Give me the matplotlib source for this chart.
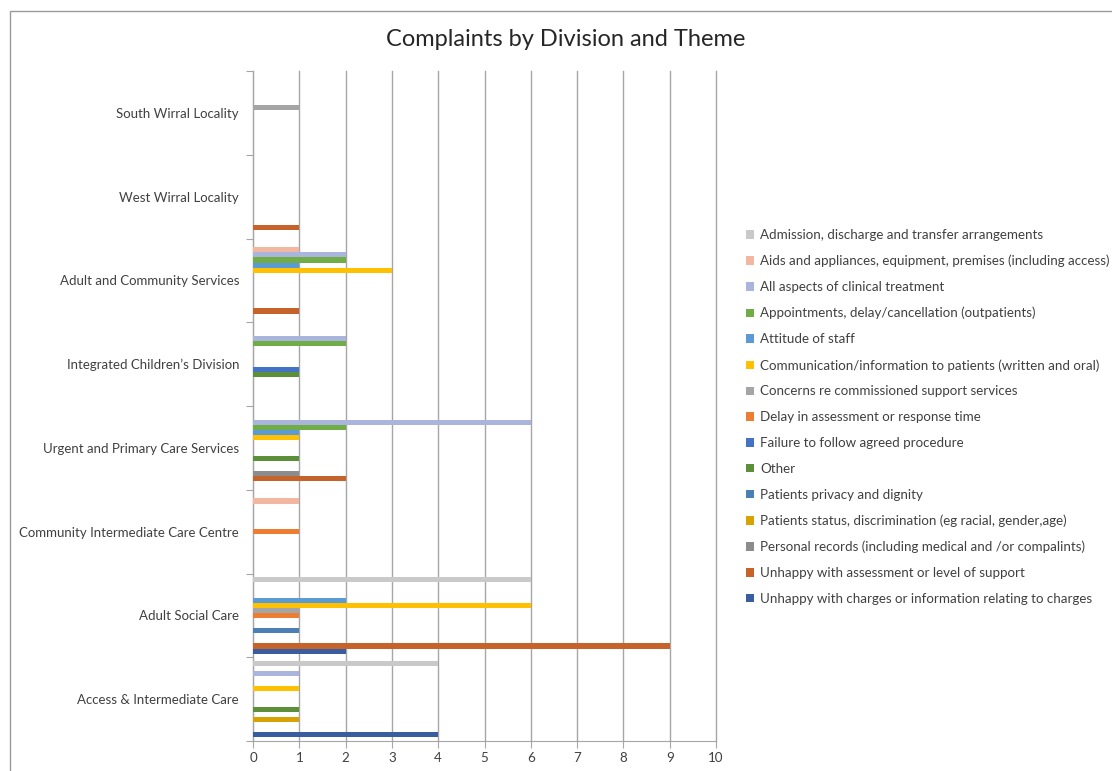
import numpy as np
import matplotlib
matplotlib.use('Agg')
import matplotlib.pyplot as plt
from matplotlib.patches import Rectangle

plt.rcParams['font.family'] = ['Lato', 'DejaVu Sans']

# Divisions, bottom to top as drawn on the axis
divisions = [
    'Access & Intermediate Care',
    'Adult Social Care',
    'Community Intermediate Care Centre',
    'Urgent and Primary Care Services',
    'Integrated Children\u2019s Division',
    'Adult and Community Services',
    'West Wirral Locality',
    'South Wirral Locality',
]

themes = [
    'Admission, discharge and transfer arrangements',
    'Aids and appliances, equipment, premises (including access)',
    'All aspects of clinical treatment',
    'Appointments, delay/cancellation (outpatients)',
    'Attitude of staff',
    'Communication/information to patients (written and oral)',
    'Concerns re commissioned support services',
    'Delay in assessment or response time',
    'Failure to follow agreed procedure',
    'Other',
    'Patients privacy and dignity',
    'Patients status, discrimination (eg racial, gender,age)',
    'Personal records (including medical and /or compalints)',
    'Unhappy with assessment or level of support',
    'Unhappy with charges or information relating to charges',
]

# complaint counts per theme, one value per division (same order as divisions)
admission     = [4, 6, 0, 0, 0, 0, 0, 0]
aids          = [0, 0, 1, 0, 0, 1, 0, 0]
clinical      = [1, 0, 0, 6, 2, 2, 0, 0]
appointments  = [0, 0, 0, 2, 2, 2, 0, 0]
attitude      = [0, 2, 0, 1, 0, 1, 0, 0]
communication = [1, 6, 0, 1, 0, 3, 0, 0]
commissioned  = [0, 1, 0, 0, 0, 0, 0, 1]
delay         = [0, 1, 1, 0, 0, 0, 0, 0]
procedure     = [0, 0, 0, 0, 1, 0, 0, 0]
other         = [1, 0, 0, 1, 1, 0, 0, 0]
privacy       = [0, 1, 0, 0, 0, 0, 0, 0]
status        = [1, 0, 0, 0, 0, 0, 0, 0]
records       = [0, 0, 0, 1, 0, 0, 0, 0]
assessment    = [0, 9, 0, 2, 0, 1, 1, 0]
charges       = [4, 2, 0, 0, 0, 0, 0, 0]

series = [admission, aids, clinical, appointments, attitude, communication,
          commissioned, delay, procedure, other, privacy, status, records,
          assessment, charges]

colors = ['#C9C9C9', '#F3B6A0', '#A9B5DC', '#70AD47', '#5B9BD5', '#FFC000',
          '#A5A5A5', '#ED7D31', '#4472C4', '#5B9038', '#4B7FB5', '#D6A300',
          '#8C8C8C', '#C6632A', '#3A5DA0']

fig = plt.figure(figsize=(11.12, 7.71), dpi=100)
ax = fig.add_axes([253 / 1112, 1 - 741 / 771, 463 / 1112, 670 / 771])

h = 5.1 / 83.75
pos = np.arange(len(divisions))
handles = []
for j, (vals, c, name) in enumerate(zip(series, colors, themes)):
    b = ax.barh(pos + (7 - j) * h, vals, height=h, color=c, label=name,
                linewidth=0, zorder=3)
    handles.append(b)

ax.set_xlim(0, 10)
ax.set_ylim(-0.5, len(divisions) - 0.5)
ax.set_xticks(range(11))
ax.xaxis.grid(True, color='#A6A6A6', linewidth=1, zorder=0)
ax.set_axisbelow(True)
for gl in ax.get_xgridlines():
    gl.set_clip_on(False)

# boundary ticks between divisions, labels centred in each band
ax.set_yticks(np.arange(-0.5, len(divisions), 1))
ax.set_yticklabels([])
ax.set_yticks(pos, minor=True)
ax.set_yticklabels(divisions, minor=True)
ax.tick_params(axis='y', which='major', length=5, color='#A6A6A6')
ax.tick_params(axis='y', which='minor', length=0, pad=10, labelsize=9.5,
               labelcolor='#404040')
ax.tick_params(axis='x', length=5, color='#A6A6A6', labelsize=9.6,
               labelcolor='#404040', pad=3)

for s in ['top', 'right']:
    ax.spines[s].set_visible(False)
for s in ['left', 'bottom']:
    ax.spines[s].set_color('#A6A6A6')

fig.text(566 / 1112, 1 - 39 / 771, 'Complaints by Division and Theme',
         ha='center', va='center', fontsize=17, color='#262626')

fig.legend(handles=handles, labels=themes, loc='upper left',
           bbox_to_anchor=(746 / 1112, 1 - 229 / 771), frameon=False,
           fontsize=9.6, labelcolor='#404040', handlelength=0.6,
           handleheight=0.6, handletextpad=0.45, labelspacing=1.035,
           borderaxespad=0, borderpad=0)

fig.patches.append(Rectangle((10 / 1112, -0.1), 1.2, 1.1 - 11 / 771,
                             transform=fig.transFigure, fill=False,
                             edgecolor='#9A9A9A', linewidth=1))

fig.savefig('out.png', dpi=100)
